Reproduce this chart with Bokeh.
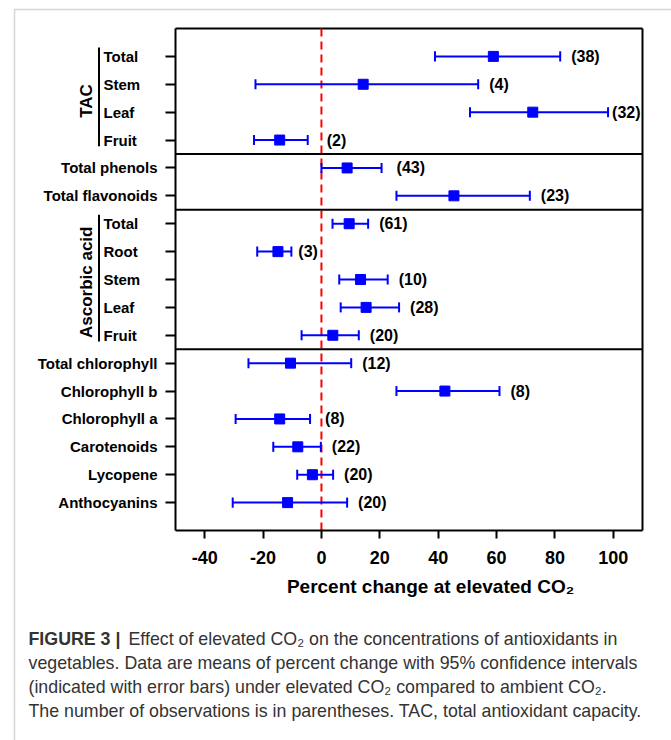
import math
from bokeh.plotting import figure
from bokeh.models import Range1d, FixedTicker, Label, BoxAnnotation
from bokeh.core.properties import value
from bokeh.embed import file_html
from bokeh.resources import INLINE

# ---------------- data ----------------
row_labels = ["Total", "Stem", "Leaf", "Fruit",
              "Total phenols", "Total flavonoids",
              "Total", "Root", "Stem", "Leaf", "Fruit",
              "Total chlorophyll", "Chlorophyll b", "Chlorophyll a",
              "Carotenoids", "Lycopene", "Anthocyanins"]
row_group = ["TAC"] * 4 + ["", ""] + ["Ascorbic acid"] * 5 + [""] * 6
mean_change = [58.9, 14.3, 72.4, -14.3, 8.8, 45.4, 9.5, -14.9, 13.4, 15.3, 3.9,
               -10.6, 42.3, -14.3, -8.1, -3.1, -11.6]
ci_lower = [38.9, -22.6, 50.9, -23.1, 0.0, 25.7, 3.8, -22.0, 6.1, 6.6, -6.8,
            -25.0, 25.7, -29.4, -16.5, -8.3, -30.4]
ci_upper = [81.8, 53.7, 98.2, -4.7, 20.6, 71.4, 16.0, -10.3, 22.7, 26.6, 12.8,
            10.2, 61.0, -3.9, -0.2, 4.0, 8.8]
n_obs = [38, 4, 32, 2, 43, 23, 61, 3, 10, 28, 20, 12, 8, 8, 22, 20, 20]
x_ticks = [-40, -20, 0, 20, 40, 60, 80, 100]
x_title = "Percent change at elevated CO\u2082"
caption_head = "FIGURE 3 |"
caption_lines = [
    "Effect of elevated CO\u2082 on the concentrations of antioxidants in",
    "vegetables. Data are means of percent change with 95% confidence intervals",
    "(indicated with error bars) under elevated CO\u2082 compared to ambient CO\u2082.",
    "The number of observations is in parentheses. TAC, total antioxidant capacity.",
]

# ---------------- layout ----------------
W, H = 671, 740
FONT = "Liberation Sans"
BLUE = "#0000ff"
n_rows = len(row_labels)
pos = list(range(1, n_rows + 1))          # 1 = top row
X_MIN, X_MAX = -50, 110
Y_TOP, Y_BOT = 0, n_rows + 1
PX_L, PX_R, PX_T, PX_B = 175, 642, 28, 530   # plot box in canvas pixels
kx = (PX_R - PX_L) / (X_MAX - X_MIN)
ky = (PX_B - PX_T) / (Y_BOT - Y_TOP)

p = figure(width=W, height=H, output_backend="svg", toolbar_location=None, title=None,
           x_range=Range1d(X_MIN - PX_L / kx, X_MAX + (W - PX_R) / kx),
           y_range=Range1d(Y_BOT + (H - PX_B) / ky, Y_TOP - PX_T / ky),
           min_border=0)
p.background_fill_color = "white"
p.border_fill_color = "white"
p.grid.visible = False
p.outline_line_color = None

# x axis pinned to the bottom of the plot box
xa = p.xaxis[0]
xa.fixed_location = Y_BOT
xa.bounds = (X_MIN, X_MAX)
xa.ticker = FixedTicker(ticks=x_ticks)
xa.major_label_overrides = {t: str(t) for t in x_ticks}
xa.major_label_text_font = FONT
xa.major_label_text_font_style = "bold"
xa.major_label_text_font_size = "18px"
xa.major_label_text_color = "black"
xa.major_tick_out = 8
xa.major_tick_in = 0
xa.minor_tick_line_color = None
xa.axis_line_width = 2
xa.major_tick_line_width = 2
xa.major_label_standoff = 12

# y axis pinned to the left of the plot box
ya = p.yaxis[0]
ya.fixed_location = X_MIN
ya.bounds = (Y_TOP, Y_BOT)
ya.ticker = FixedTicker(ticks=pos)
ya.major_label_overrides = {k: (lab if g == "" else "")
                            for k, lab, g in zip(pos, row_labels, row_group)}
ya.major_label_text_font = FONT
ya.major_label_text_font_style = "bold"
ya.major_label_text_font_size = "15px"
ya.major_label_text_color = "black"
ya.major_tick_out = 10
ya.major_tick_in = 0
ya.minor_tick_line_color = None
ya.axis_line_width = 2
ya.major_tick_line_width = 2
ya.major_label_standoff = 8

# plot box top / right edges
p.segment(x0=[X_MIN, X_MAX], y0=[Y_TOP, Y_TOP], x1=[X_MAX, X_MAX], y1=[Y_TOP, Y_BOT],
          line_color="black", line_width=2)

# zero line
p.segment(x0=[0], y0=[Y_TOP], x1=[0], y1=[Y_BOT], line_color="#ff0000",
          line_dash="8 5", line_width=2)

# section separators
seps = [pos[i] + 0.5 for i in range(n_rows - 1) if row_group[i] != row_group[i + 1]]
p.segment(x0=[X_MIN] * len(seps), y0=seps, x1=[X_MAX] * len(seps), y1=seps,
          line_color="black", line_width=2)

# error bars, caps, markers
cap = 0.18
p.segment(x0=ci_lower, y0=pos, x1=ci_upper, y1=pos, line_color=BLUE, line_width=2)
p.segment(x0=ci_lower, y0=[v - cap for v in pos], x1=ci_lower, y1=[v + cap for v in pos],
          line_color=BLUE, line_width=2)
p.segment(x0=ci_upper, y0=[v - cap for v in pos], x1=ci_upper, y1=[v + cap for v in pos],
          line_color=BLUE, line_width=2)
p.scatter(x=mean_change, y=pos, marker="square", size=10,
          fill_color=BLUE, line_color=BLUE)

# counts
nudge = {2: 4, 3: 19, 4: 15, 7: 7, 13: 15}
offsets = [nudge.get(i, 11) for i in range(n_rows)]
p.text(x=ci_upper, y=pos, text=["(%d)" % n for n in n_obs], x_offset=offsets,
       text_align="left", text_baseline="middle", text_font=value(FONT),
       text_font_style="bold", text_font_size="16px", text_color="black")

# group labels, sub-labels, brackets
for g in ["TAC", "Ascorbic acid"]:
    idx = [i for i in range(n_rows) if row_group[i] == g]
    first, last = pos[idx[0]], pos[idx[-1]]
    p.add_layout(Label(x=86, x_units="screen", y=(first + last) / 2 + 0.1,
                       y_units="data", text=g, angle=90, angle_units="deg",
                       text_align="center", text_baseline="middle",
                       text_font=FONT, text_font_style="bold",
                       text_font_size="17px", text_color="black"))
    bx = X_MIN - (PX_L - 98.5) / kx
    p.segment(x0=[bx], y0=[first - 0.32], x1=[bx], y1=[last + 0.22],
              line_color="black", line_width=2)
    for i in idx:
        p.add_layout(Label(x=103, x_units="screen", y=pos[i], y_units="data",
                           text=row_labels[i], text_align="left",
                           text_baseline="middle", text_font=FONT,
                           text_font_style="bold", text_font_size="15px",
                           text_color="black"))

# axis title
p.add_layout(Label(x=430, y=H - 586, x_units="screen", y_units="screen",
                   text=x_title, text_align="center", text_baseline="middle",
                   text_font=FONT, text_font_style="bold", text_font_size="19px",
                   text_color="black"))

# outer frame of the figure panel
p.add_layout(BoxAnnotation(left=14, right=W + 20, top=H - 9, bottom=-20,
                           left_units="screen", right_units="screen",
                           top_units="screen", bottom_units="screen",
                           fill_alpha=0, line_color="#777777", line_width=1.5))

# caption
CAP_COL = "#333333"
CAP_SIZE = "17.8px"
base = [638, 662, 686, 710]
p.add_layout(Label(x=28, y=H - base[0], x_units="screen", y_units="screen",
                   text=caption_head, text_align="left", text_baseline="alphabetic",
                   text_font=FONT, text_font_style="bold", text_font_size=CAP_SIZE,
                   text_color=CAP_COL))
for k, line in enumerate(caption_lines):
    x0 = 128 if k == 0 else 28
    p.add_layout(Label(x=x0, y=H - base[k], x_units="screen", y_units="screen",
                       text=line, text_align="left", text_baseline="alphabetic",
                       text_font=FONT, text_font_size=CAP_SIZE, text_color=CAP_COL))

open("out.html", "w").write(file_html(p, INLINE))
